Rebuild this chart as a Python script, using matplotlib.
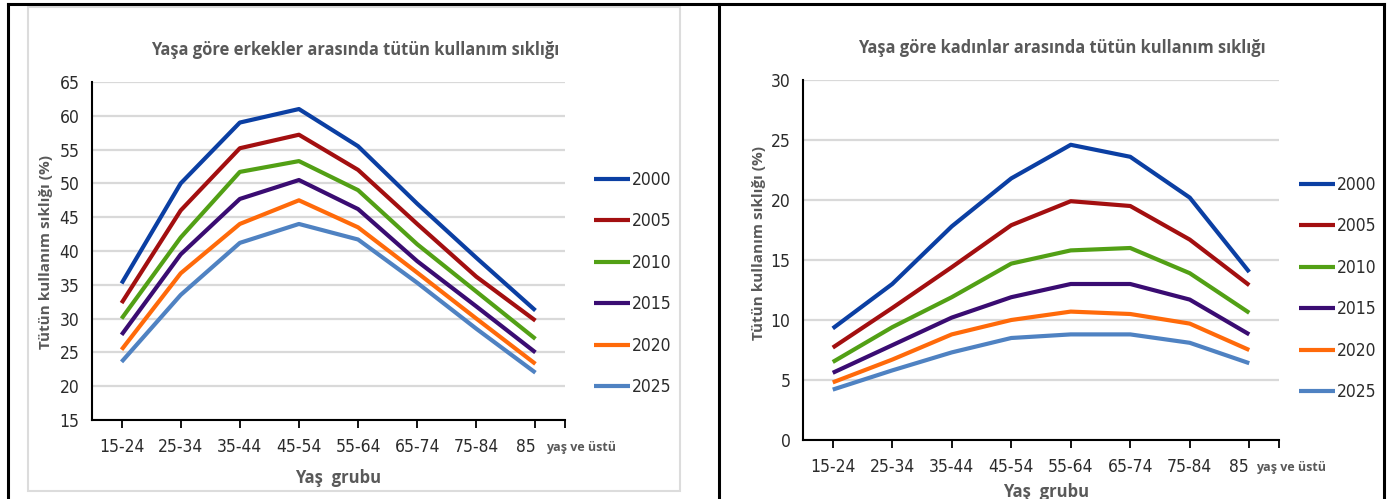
import matplotlib
matplotlib.use("Agg")
import matplotlib.pyplot as plt
from matplotlib.lines import Line2D
from matplotlib.patches import Rectangle
from matplotlib.font_manager import FontProperties

categories = ["15-24", "25-34", "35-44", "45-54", "55-64", "65-74", "75-84", "85"]
years = ["2000", "2005", "2010", "2015", "2020", "2025"]

men_2000 = [35.2, 50.0, 59.0, 61.0, 55.5, 47.0, 39.0, 31.2]
men_2005 = [32.3, 46.0, 55.2, 57.2, 52.0, 44.0, 36.2, 29.7]
men_2010 = [30.0, 42.0, 51.7, 53.3, 49.0, 41.0, 34.0, 27.0]
men_2015 = [27.6, 39.5, 47.7, 50.5, 46.2, 38.5, 31.8, 25.0]
men_2020 = [25.4, 36.7, 44.0, 47.5, 43.5, 36.8, 30.0, 23.3]
men_2025 = [23.6, 33.5, 41.2, 44.0, 41.7, 35.3, 28.5, 22.0]

women_2000 = [9.3, 13.0, 17.8, 21.8, 24.6, 23.6, 20.2, 14.0]
women_2005 = [7.7, 11.0, 14.4, 17.9, 19.9, 19.5, 16.7, 12.9]
women_2010 = [6.5, 9.4, 11.9, 14.7, 15.8, 16.0, 13.9, 10.6]
women_2015 = [5.6, 7.9, 10.2, 11.9, 13.0, 13.0, 11.7, 8.8]
women_2020 = [4.8, 6.7, 8.8, 10.0, 10.7, 10.5, 9.7, 7.5]
women_2025 = [4.2, 5.8, 7.3, 8.5, 8.8, 8.8, 8.1, 6.4]

men_series = [men_2000, men_2005, men_2010, men_2015, men_2020, men_2025]
women_series = [women_2000, women_2005, women_2010, women_2015, women_2020, women_2025]

colors = ["#0b3fa3", "#a30f10", "#52a015", "#3a0c72", "#ff6a0a", "#4f82c2"]

title_men = "Yaşa göre erkekler arasında tütün kullanım sıklığı"
title_women = "Yaşa göre kadınlar arasında tütün kullanım sıklığı"
ylabel = "Tütün kullanım sıklığı (%)"
xlabel = "Yaş  grubu"
suffix = "yaş ve üstü"

W, H = 1391, 499
fig = plt.figure(figsize=(W / 100, H / 100), dpi=100)

SANS = ["Open Sans", "DejaVu Sans"]
GRAY = "#595959"
TICKC = "#2b2b2b"


def narrow(size):
    return FontProperties(family="DejaVu Sans", stretch="condensed", size=size)


def fx(px):
    return px / W


def fy(py):
    return 1 - py / H


# outer frame lines
fig.add_artist(Line2D([fx(8), fx(8)], [0, fy(4)], color="black", lw=2.2))
fig.add_artist(Line2D([fx(8), fx(1384)], [fy(4), fy(4)], color="black", lw=2.2))
fig.add_artist(Line2D([fx(1384), fx(1384)], [0, fy(4)], color="black", lw=2.2))
fig.add_artist(Line2D([fx(719), fx(719)], [0, fy(4)], color="black", lw=2.2))
# light gray chart frame on the left
fig.add_artist(Rectangle((fx(28), fy(491)), fx(680) - fx(28), fy(7) - fy(491),
                         fill=False, edgecolor="#dcdcdc", lw=1.5))


def make_panel(x0, x1, ytop, ybot, ylim, yticks, series, title, title_xy,
               ylab_xy, xlab_xy, leg_x, leg_y, suffix_xy):
    ax = fig.add_axes([fx(x0), fy(ybot), fx(x1) - fx(x0), fy(ytop) - fy(ybot)])
    xs = list(range(len(categories)))
    for vals, c, yr in zip(series, colors, years):
        ax.plot(xs, vals, color=c, lw=3.0, label=yr, solid_capstyle="butt")
    ax.set_xlim(-0.5, len(categories) - 0.5)
    ax.set_ylim(*ylim)
    ax.set_yticks(yticks)
    ax.set_yticklabels([str(t) for t in yticks], fontproperties=narrow(12.5), color=TICKC)
    ax.set_xticks(xs)
    labels = ax.set_xticklabels(categories, fontproperties=narrow(12.5), color=TICKC)
    labels[-1].set_ha("right")
    ax.set_xticks([len(categories) - 0.5], minor=True)
    ax.tick_params(axis="y", length=0, pad=9)
    ax.tick_params(axis="x", which="both", length=6, width=1.3, direction="out",
                   pad=7, color="black")
    for s in ["top", "right"]:
        ax.spines[s].set_visible(False)
    ax.spines["left"].set_linewidth(1.5)
    ax.spines["bottom"].set_linewidth(1.5)
    ax.yaxis.grid(True, color="#d9d9d9", lw=1.6)
    ax.set_axisbelow(True)
    fig.text(fx(title_xy[0]), fy(title_xy[1]), title, ha="center", va="center",
             fontsize=11.9, fontweight="bold", family=SANS, color=GRAY)
    fig.text(fx(ylab_xy[0]), fy(ylab_xy[1]), ylabel, ha="center", va="center",
             rotation=90, fontsize=11, fontweight="bold", family=SANS, color=GRAY)
    fig.text(fx(xlab_xy[0]), fy(xlab_xy[1]), xlabel, ha="center", va="center",
             fontsize=12, fontweight="bold", family=SANS, color=GRAY)
    fig.text(fx(suffix_xy[0]), fy(suffix_xy[1]), suffix, ha="left", va="center",
             fontsize=9, fontweight="bold", family=SANS, color=GRAY)
    leg = ax.legend(loc="upper left", bbox_to_anchor=(fx(leg_x), fy(leg_y)),
                    bbox_transform=fig.transFigure, frameon=False,
                    prop=narrow(12.5),
                    handlelength=2.1, handletextpad=0.1, labelspacing=1.35,
                    borderpad=0, borderaxespad=0)
    for t in leg.get_texts():
        t.set_color(TICKC)
    return ax


make_panel(92, 565, 82, 420, (15, 65), list(range(15, 70, 5)), men_series,
           title_men, (355, 50), (46, 252), (338, 478), 594, 171, (546, 447))

make_panel(803, 1279, 80, 440, (0, 30), list(range(0, 35, 5)), women_series,
           title_women, (1062, 48), (759, 243), (1046, 492), 1299, 176, (1256, 467))

fig.savefig("out.png", dpi=100)
